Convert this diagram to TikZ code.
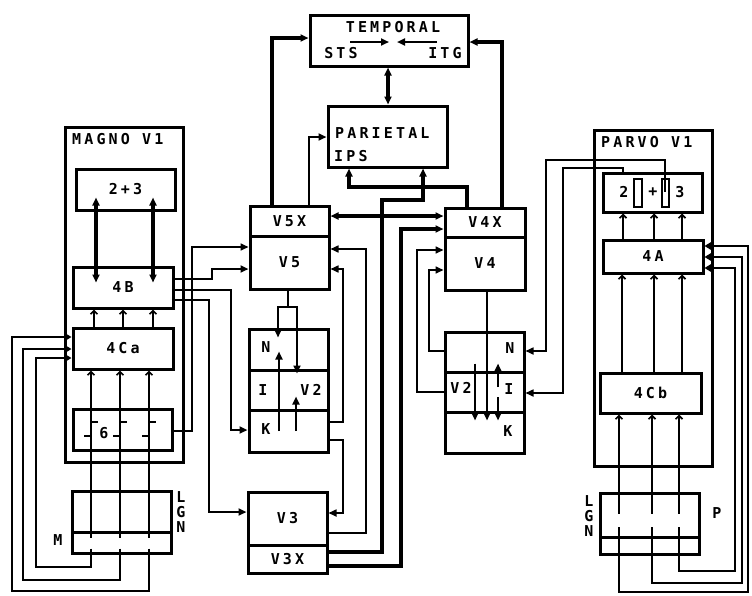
\documentclass[tikz,border=0pt]{standalone}
\usepackage{fontspec}
\newfontfamily\dlabfont[LetterSpace=21]{DejaVu Sans Mono}
\newcommand\dlab{\dlabfont\bfseries\fontsize{15}{16}\selectfont}
\usetikzlibrary{arrows.meta}
\begin{document}
\begin{tikzpicture}[x=1pt,y=-1pt,
  box/.style={draw,line width=3pt,inner sep=0pt,font=\dlab},
  lbl/.style={inner sep=0pt,font=\dlab},
  thn/.style={line width=1.6pt},
  mdl/.style={line width=2.3pt},
  thk/.style={line width=3.2pt},
  tri/.style={-{Triangle[length=8pt,width=7pt]}},
  ltri/.style={-{Triangle[length=7pt,width=8pt]}},
  dtri/.style={{Triangle[length=8pt,width=7pt]}-{Triangle[length=8pt,width=7pt]}},
  barb/.style={-{Straight Barb[length=3.5pt,width=7pt]}},
]
\useasboundingbox (0,0) rectangle (752,595);
\fill[white] (0,0) rectangle (752,595);

% ---------- MAGNO V1 ----------
\node[box,minimum width=118pt,minimum height=335pt] (magno) at (124,294.5) {};
\node[lbl,anchor=west] (magnolbl) at (72,139) {MAGNO V1};
\node[box,minimum width=99pt,minimum height=41pt] (m23) at (125.5,189.5) {2+3};
\node[box,minimum width=100pt,minimum height=41pt] (m4B) at (123,287.5) {4B};
\node[box,minimum width=100pt,minimum height=41pt] (m4Ca) at (123,348.5) {4Ca};
\node[box,minimum width=99pt,minimum height=41pt] (m6) at (122.5,429.5) {};
\node[lbl] (m6lbl) at (104,433) {6};
\node[box,minimum width=99pt,minimum height=41pt] (mLGNa) at (121.5,511.5) {};
\node[box,minimum width=99pt,minimum height=21pt] (mLGNb) at (121.5,542.5) {};
\node[lbl] (mL) at (181,497) {L};
\node[lbl] (mG) at (181,512) {G};
\node[lbl] (mN) at (181,527) {N};
\node[lbl] (mM) at (58,540) {M};

% ---------- TEMPORAL / PARIETAL ----------
\node[box,minimum width=158pt,minimum height=51pt] (temporal) at (389,40.5) {};
\node[lbl] (templbl) at (393,27) {TEMPORAL};
\node[lbl] (sts) at (341,53) {STS};
\node[lbl] (itg) at (445,53) {ITG};
\node[box,minimum width=119pt,minimum height=61pt] (parietal) at (387.5,136.5) {};
\node[lbl,anchor=west] (parlbl) at (335,133) {PARIETAL};
\node[lbl,anchor=west] (ips) at (334,156) {IPS};

% ---------- V5 column ----------
\node[box,minimum width=79pt,minimum height=30pt] (v5x) at (289.5,221) {V5X};
\node[box,minimum width=79pt,minimum height=53pt] (v5) at (289.5,262.5) {V5};
\node[box,minimum width=79pt,minimum height=41pt] (v2LN) at (288.5,349.5) {};
\node[box,minimum width=79pt,minimum height=40pt] (v2LI) at (288.5,390) {};
\node[box,minimum width=79pt,minimum height=42pt] (v2LK) at (288.5,431) {};
\node[lbl] (lN) at (266,347) {N};
\node[lbl] (lI) at (263,390) {I};
\node[lbl] (lV2) at (311,390) {V2};
\node[lbl] (lK) at (266,429) {K};
\node[box,minimum width=79pt,minimum height=53pt] (v3) at (287.5,518.5) {V3};
\node[box,minimum width=79pt,minimum height=28pt] (v3x) at (287.5,559) {V3X};

% ---------- V4 column ----------
\node[box,minimum width=80pt,minimum height=29pt] (v4x) at (485,222.5) {V4X};
\node[box,minimum width=80pt,minimum height=53pt] (v4) at (485,263.5) {V4};
\node[box,minimum width=79pt,minimum height=40pt] (v2RN) at (484.5,352) {};
\node[box,minimum width=79pt,minimum height=40pt] (v2RI) at (484.5,392) {};
\node[box,minimum width=79pt,minimum height=41pt] (v2RK) at (484.5,432.5) {};
\node[lbl] (rN) at (510,348) {N};
\node[lbl] (rV2) at (461,388) {V2};
\node[lbl] (rI) at (509,389) {I};
\node[lbl] (rK) at (508,431) {K};

% ---------- PARVO V1 ----------
\node[box,minimum width=118pt,minimum height=336pt] (parvo) at (653,298) {};
\node[lbl,anchor=west] (parvolbl) at (601,142) {PARVO V1};
\node[box,minimum width=99pt,minimum height=39pt] (p23) at (652.5,192.5) {};
\node[lbl] (p2) at (624,192) {2};
\node[lbl] (pplus) at (653,192) {+};
\node[lbl] (p3) at (680,192) {3};
\draw[thn] (634,179) rectangle (642,207);
\draw[thn] (662,179) rectangle (669,207);
\node[box,minimum width=100pt,minimum height=33pt] (p4A) at (653,256.5) {4A};
\node[box,minimum width=101pt,minimum height=40pt] (p4Cb) at (650.5,393) {4Cb};
\node[box,minimum width=99pt,minimum height=44pt] (pLGNa) at (649.5,515) {};
\node[box,minimum width=99pt,minimum height=17pt] (pLGNb) at (649.5,545.5) {};
\node[lbl] (pL) at (589,501) {L};
\node[lbl] (pG) at (589,516) {G};
\node[lbl] (pN) at (589,531) {N};
\node[lbl] (pP) at (717,513) {P};

% ---------- magno connections ----------
\draw[thk,dtri,shorten <=-14pt,shorten >=-17pt] (m23.south -| 96,0) -- (m4B.north -| 96,0);
\draw[thk,dtri,shorten <=-14pt,shorten >=-17pt] (m23.south -| 153,0) -- (m4B.north -| 153,0);
\foreach \x in {94,123,153} \draw[thn,barb] (m4Ca.north -| \x,0) -- (m4B.south -| \x,0);
\foreach \x in {91,120,149} {
  \draw[thn,barb,shorten <=-4pt] (mLGNa.south -| \x,0) -- (m4Ca.south -| \x,0);
  \draw[thn] (\x,422) -- ++(7,0);
  \draw[thn] (\x,436) -- ++(-7,0);
}
\draw[thn,ltri,shorten <=-6pt] (mLGNb.south -| 149,0) |- (12,591) |- (m4Ca.west |- 0,337);
\draw[thn,ltri,shorten <=-6pt] (mLGNb.south -| 120,0) |- (23,580) |- (m4Ca.west |- 0,349);
\draw[thn,ltri,shorten <=-6pt] (mLGNb.south -| 91,0) |- (36,567) |- (m4Ca.west |- 0,358);

\draw[thn,tri] (m6.east |- 0,431) -| (192,247) -- (v5.west |- 0,247);
\draw[mdl,tri] (m4B.east |- 0,279) -| (212,269) -- (v5.west |- 0,269);
\draw[mdl,tri] (m4B.east |- 0,290) -| (231,430) -- (v2LK.west |- 0,430);
\draw[mdl,tri] (m4B.east |- 0,300) -| (209,512) -- (v3.west |- 0,512);

% ---------- higher areas ----------
\draw[thk,tri] (v5x.north -| 272,0) |- (temporal.west |- 0,38);
\draw[mdl,tri] (v5x.north -| 309,0) |- (parietal.west |- 0,137);
\draw[thk,dtri] (temporal.south -| 388,0) -- (parietal.north -| 388,0);
\draw[mdl,tri] (350,42) -- (389,42);
\draw[mdl,tri] (437,42) -- (397,42);
\draw[thk,dtri] (v5x.east |- 0,216) -- (v4x.west |- 0,216);
\draw[thk,tri] (v4x.north -| 502,0) |- (temporal.east |- 0,42);
\draw[thk,tri] (v4x.north -| 467,0) |- (349,187) -- (parietal.south -| 349,0);
\draw[thk,tri] (v3x.east |- 0,552) -| (382,200) -| (parietal.south -| 423,0);
\draw[thk,tri] (v3x.east |- 0,566) -| (401,229) -- (v4x.west |- 0,229);
\draw[thn,tri] (v3.east |- 0,533) -| (366,249) -- (v5.east |- 0,249);
\draw[thn,tri] (v2LK.east |- 0,422) -| (343,269) -- (v5.east |- 0,269);
\draw[thn,tri] (v2LK.east |- 0,440) -| (343,513) -- (v3.east |- 0,513);

% ---------- inside left V2 ----------
\draw[mdl] (v5.south -| 288,0) -- (288,307);
\draw[mdl,tri,shorten >=-10pt] (288,307) -| (v2LN.north -| 278,0);
\draw[mdl,tri,shorten >=-5pt] (288,307) -| (v2LI.north -| 297,0);
\draw[mdl,tri,shorten >=-20pt] (v2LK.center -| 279,0) -- (v2LN.south -| 279,0);
\draw[mdl,tri,shorten >=-15pt] (v2LK.center -| 296,0) -- (v2LI.south -| 296,0);

% ---------- inside right V2 ----------
\draw[mdl,tri,shorten >=-10pt] (v4.south -| 487,0) -- (v2RK.north -| 487,0);
\draw[mdl,tri,shorten <=-10pt,shorten >=-10pt] (v2RN.south -| 475,0) -- (v2RK.north -| 475,0);
\draw[mdl,tri,shorten <=5pt,shorten >=-10pt] (v2RI.center -| 498,0) -- (v2RN.south -| 498,0);
\draw[mdl,tri,shorten <=5pt,shorten >=-10pt] (v2RI.center -| 498,0) -- (v2RK.north -| 498,0);
\draw[thn,tri] (v2RI.west |- 0,392) -| (417,250) -- (v4.west |- 0,250);
\draw[thn,tri] (v2RN.west |- 0,351) -| (429,270) -- (v4.west |- 0,270);

% ---------- parvo connections ----------
\draw[thn,tri,shorten <=-20pt] (p23.north -| 665,0) |- (546,160) |- (v2RN.east |- 0,351);
\draw[thn,tri] (p23.north -| 623,0) |- (563,168) |- (v2RI.east |- 0,393);
\foreach \x in {623,654,682} \draw[thn,barb] (p4A.north -| \x,0) -- (p23.south -| \x,0);
\foreach \x in {622,654,682} \draw[thn,barb] (p4Cb.north -| \x,0) -- (p4A.south -| \x,0);
\foreach \x in {619,652,679} \draw[thn,barb,shorten <=-22pt] (pLGNa.north -| \x,0) -- (p4Cb.south -| \x,0);
\draw[thn,ltri,shorten <=12pt] (pLGNa.center -| 619,0) |- (748,592) |- (p4A.east |- 0,246);
\draw[thn,ltri,shorten <=12pt] (pLGNa.center -| 652,0) |- (742,583) |- (p4A.east |- 0,257);
\draw[thn,ltri,shorten <=12pt] (pLGNa.center -| 679,0) |- (735,571) |- (p4A.east |- 0,268);
\end{tikzpicture}
\end{document}
